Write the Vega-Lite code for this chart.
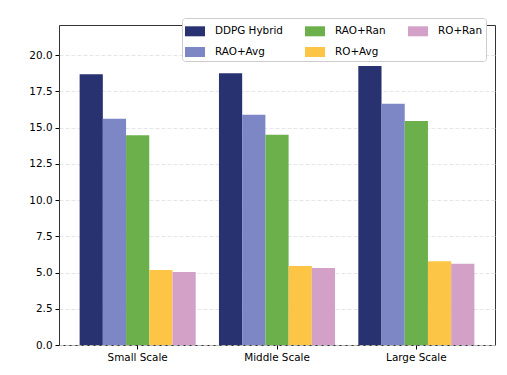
{
  "$schema": "https://vega.github.io/schema/vega-lite/v6.json",
  "width": 436,
  "height": 320,
  "padding": {"left": 28, "top": 17, "right": 5, "bottom": 5},
  "background": "white",
  "config": {
    "font": "DejaVu Sans",
    "view": {"stroke": "#333333", "strokeWidth": 1}
  },
  "data": {
    "values": [
      {"scale": "Small Scale", "method": "DDPG Hybrid", "value": 18.67},
      {"scale": "Small Scale", "method": "RAO+Avg", "value": 15.6},
      {"scale": "Small Scale", "method": "RAO+Ran", "value": 14.46},
      {"scale": "Small Scale", "method": "RO+Avg", "value": 5.17},
      {"scale": "Small Scale", "method": "RO+Ran", "value": 5.03},
      {"scale": "Middle Scale", "method": "DDPG Hybrid", "value": 18.74},
      {"scale": "Middle Scale", "method": "RAO+Avg", "value": 15.88},
      {"scale": "Middle Scale", "method": "RAO+Ran", "value": 14.5},
      {"scale": "Middle Scale", "method": "RO+Avg", "value": 5.45},
      {"scale": "Middle Scale", "method": "RO+Ran", "value": 5.31},
      {"scale": "Large Scale", "method": "DDPG Hybrid", "value": 19.24},
      {"scale": "Large Scale", "method": "RAO+Avg", "value": 16.64},
      {"scale": "Large Scale", "method": "RAO+Ran", "value": 15.45},
      {"scale": "Large Scale", "method": "RO+Avg", "value": 5.77},
      {"scale": "Large Scale", "method": "RO+Ran", "value": 5.61}
    ]
  },
  "mark": {"type": "bar"},
  "encoding": {
    "x": {
      "field": "scale",
      "type": "nominal",
      "sort": ["Small Scale", "Middle Scale", "Large Scale"],
      "scale": {"paddingInner": 0.167, "paddingOuter": 0.148},
      "axis": {
        "title": null,
        "labelAngle": 0,
        "labelFontSize": 10.4,
        "labelColor": "#000000",
        "labelPadding": 3,
        "tickSize": 4,
        "tickColor": "#000000",
        "domain": false,
        "grid": false
      }
    },
    "xOffset": {
      "field": "method",
      "type": "nominal",
      "sort": ["DDPG Hybrid", "RAO+Avg", "RAO+Ran", "RO+Avg", "RO+Ran"],
      "scale": {"paddingInner": 0, "paddingOuter": 0}
    },
    "y": {
      "field": "value",
      "type": "quantitative",
      "scale": {"domain": [0, 22.07], "nice": false, "zero": true},
      "axis": {
        "title": null,
        "values": [0, 2.5, 5, 7.5, 10, 12.5, 15, 17.5, 20],
        "format": ".1f",
        "labelFontSize": 10.4,
        "labelColor": "#000000",
        "labelPadding": 3,
        "tickSize": 4,
        "tickColor": "#000000",
        "domain": false,
        "grid": true,
        "gridColor": "#e0e0e0",
        "gridDash": [4, 2],
        "gridWidth": 0.8
      }
    },
    "color": {
      "field": "method",
      "type": "nominal",
      "scale": {
        "domain": ["DDPG Hybrid", "RAO+Ran", "RO+Ran", "RAO+Avg", "RO+Avg"],
        "range": ["#283271", "#6bb04b", "#d3a0c8", "#7d87c6", "#fcc545"]
      },
      "legend": {
        "title": null,
        "orient": "none",
        "legendX": 123,
        "legendY": -7,
        "direction": "horizontal",
        "columns": 3,
        "columnPadding": 22,
        "rowPadding": 5,
        "symbolType": "M-1,-0.5H1V0.5H-1Z",
        "symbolSize": 400,
        "symbolStrokeWidth": 0,
        "symbolOpacity": 1,
        "labelFontSize": 10.4,
        "labelColor": "#000000",
        "labelOffset": 10,
        "fillColor": "white",
        "strokeColor": "#cccccc",
        "padding": 3,
        "cornerRadius": 3
      }
    }
  }
}
